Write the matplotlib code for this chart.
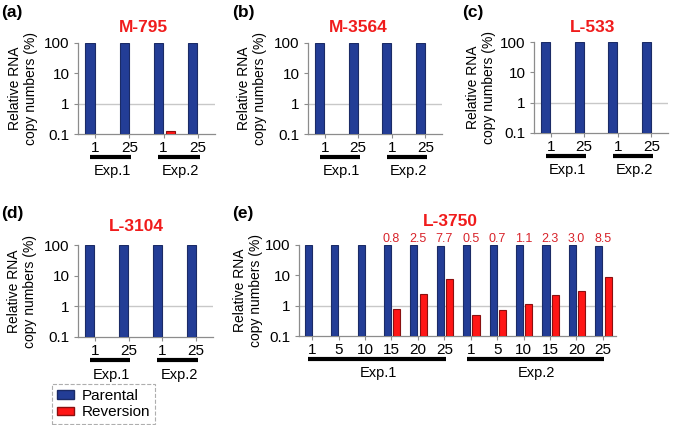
import matplotlib.pyplot as plt
import matplotlib.transforms as mtransforms
from matplotlib.patches import Patch
import numpy as np

plt.rcParams['font.family'] = ['Liberation Sans', 'DejaVu Sans']

W, H = 675, 425

panel_tags = ["(a)", "(b)", "(c)", "(d)", "(e)"]
panel_names = ["M-795", "M-3564", "L-533", "L-3104", "L-3750"]

short_labels = ["1", "25", "1", "25"]
long_labels = ["1", "5", "10", "15", "20", "25", "1", "5", "10", "15", "20", "25"]

rev_a = [0, 0, 0.13, 0]
rev_b = [0, 0, 0, 0]
rev_c = [0, 0, 0, 0]
rev_d = [0, 0, 0, 0]
rev_e = [0, 0, 0, 0.8, 2.5, 7.7, 0.5, 0.7, 1.1, 2.3, 3.0, 8.5]

BLUE = '#233d96'
BLUE_EDGE = '#1b2b66'
RED = '#ff1616'
RED_EDGE = '#8a1010'
TITLE_RED = '#f01c1c'
NUM_RED = '#d8232a'
GREY = '#8c8c8c'


def px(x0, y0, x1, y1):
    # pixel box (top-left origin) -> figure rect
    return [x0 / W, 1 - y1 / H, (x1 - x0) / W, (y1 - y0) / H]


def panel(fig, rect, rev, labels, show_numbers=False):
    ax = fig.add_axes(rect)
    rev = np.array(rev, dtype=float)
    par = 100 - rev
    x = np.arange(len(rev))
    ax.bar(x - 0.15, par, width=0.27, color=BLUE, edgecolor=BLUE_EDGE,
           linewidth=0.8, zorder=3)
    m = rev > 0
    ax.bar(x[m] + 0.2, rev[m], width=0.27, color=RED, edgecolor=RED_EDGE,
           linewidth=0.8, zorder=3)
    ax.set_yscale('log')
    ax.set_ylim(0.1, 100)
    ax.set_xlim(-0.5, len(rev) - 0.5)
    ax.axhline(1, color='#c8c8c8', linewidth=1, zorder=1)
    ax.set_yticks([0.1, 1, 10, 100])
    ax.set_yticklabels(["0.1", "1", "10", "100"])
    ax.yaxis.set_minor_locator(plt.NullLocator())
    ax.set_xticks(x)
    ax.set_xticklabels(labels)
    ax.tick_params(axis='both', labelsize=11, color=GREY, length=3, width=0.8)
    ax.tick_params(axis='y', pad=3)
    ax.tick_params(axis='x', pad=2)
    for s in ['top', 'right']:
        ax.spines[s].set_visible(False)
    for s in ['left', 'bottom']:
        ax.spines[s].set_color(GREY)
        ax.spines[s].set_linewidth(0.9)

    # experiment brackets
    trans = mtransforms.blended_transform_factory(ax.transData, ax.transAxes)
    half = len(rev) // 2
    for i, name in enumerate(["Exp.1", "Exp.2"]):
        a, b = i * half, (i + 1) * half - 1
        ax.plot([a - 0.15, b + 0.05], [-0.25, -0.25], color='black',
                linewidth=3, transform=trans, clip_on=False,
                solid_capstyle='butt')
        ax.text((a + b) / 2, -0.41, name, transform=trans, ha='center',
                va='center', fontsize=10.5)

    if show_numbers:
        for xi, v in zip(x, rev):
            if v > 0:
                ax.text(xi, 1.07, f"{v:.1f}", transform=trans, ha='center',
                        va='center', fontsize=9, color=NUM_RED)
    return ax


def main():
    fig = plt.figure(figsize=(6.75, 4.25), dpi=100)

    boxes = [(78, 43, 215, 134), (308, 43, 442, 134), (534, 42, 668, 133),
             (78, 245, 213, 337), (299, 245, 616, 336)]
    revs = [rev_a, rev_b, rev_c, rev_d, rev_e]
    labs = [short_labels] * 4 + [long_labels]
    tag_pos = [(1, 13), (232, 13), (462, 13), (1, 213), (232, 213)]
    title_pos = [(143, 28), (358, 28), (593, 27), (136, 227), (450, 222)]
    ylab_x = [23, 252, 481, 22, 248]

    for i in range(5):
        box = boxes[i]
        panel(fig, px(*box), revs[i], labs[i], show_numbers=(i == 4))
        tx, ty = tag_pos[i]
        fig.text(tx / W, 1 - ty / H, panel_tags[i], fontsize=12.5,
                 fontweight='bold', ha='left', va='center')
        cx, cy = title_pos[i]
        fig.text(cx / W, 1 - cy / H, panel_names[i], fontsize=12.5,
                 fontweight='bold', color=TITLE_RED, ha='center', va='center')
        ymid = (box[1] + box[3]) / 2
        fig.text(ylab_x[i] / W, 1 - ymid / H, "Relative RNA\ncopy numbers (%)",
                 rotation=90, ha='center', va='center', fontsize=10,
                 linespacing=1.15, multialignment='center')

    handles = [Patch(facecolor=BLUE, edgecolor=BLUE_EDGE, label='Parental'),
               Patch(facecolor=RED, edgecolor=RED_EDGE, label='Reversion')]
    leg = fig.legend(handles=handles, loc='center',
                     bbox_to_anchor=(103.5 / W, 1 - 404 / H),
                     fontsize=11, handlelength=1.1, handleheight=0.45,
                     handletextpad=0.5, labelspacing=0.15, borderpad=0.3,
                     fancybox=False, frameon=True)
    frame = leg.get_frame()
    frame.set_edgecolor('#9a9a9a')
    frame.set_linestyle('--')
    frame.set_linewidth(0.8)

    fig.savefig('out.png', dpi=100)


if __name__ == "__main__":
    main()
